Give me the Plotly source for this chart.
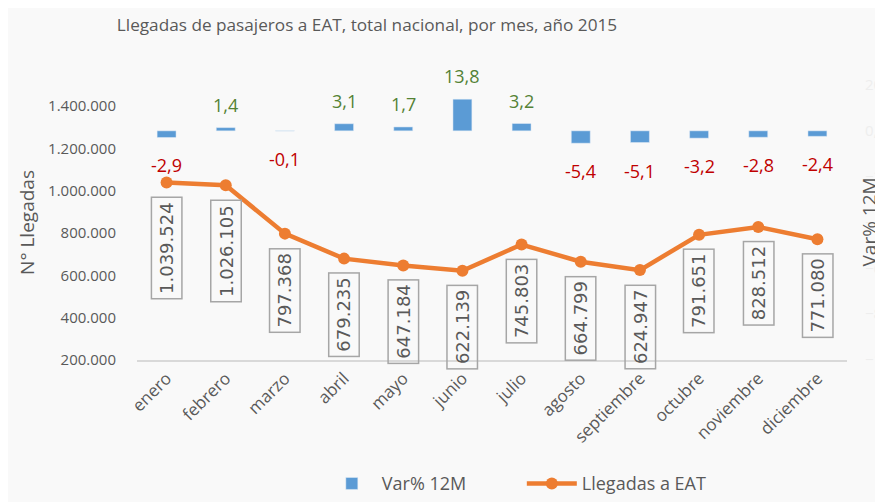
import plotly.graph_objects as go

meses = ["enero", "febrero", "marzo", "abril", "mayo", "junio", "julio",
         "agosto", "septiembre", "octubre", "noviembre", "diciembre"]
llegadas = [1039524, 1026105, 797368, 679235, 647184, 622139, 745803,
            664799, 624947, 791651, 828512, 771080]
var12m = [-2.9, 1.4, -0.1, 3.1, 1.7, 13.8, 3.2, -5.4, -5.1, -3.2, -2.8, -2.4]

GRAY = "#595959"
BLUE = "#5b9bd5"
ORANGE = "#ed7d31"
GREEN = "#548235"
RED = "#c00000"
BG = "#f9f9f9"

def fmt_miles(v):
    return f"{v:,}".replace(",", ".")

def fmt_pct(v):
    return f"{v:.1f}".replace(".", ",")

fig = go.Figure()
fig.add_trace(go.Bar(
    x=meses, y=var12m, name="Var% 12M", yaxis="y2",
    marker=dict(color=BLUE), width=0.32,
))
fig.add_trace(go.Scatter(
    x=meses, y=llegadas, name="Llegadas a EAT", mode="lines+markers",
    line=dict(color=ORANGE, width=4.5), marker=dict(color=ORANGE, size=12),
))

annotations = []
for m, v in zip(meses, var12m):
    annotations.append(dict(
        x=m, y=v, xref="x", yref="y2", text=fmt_pct(v), showarrow=False,
        yanchor="middle", yshift=(23 if v > 0 else -28),
        font=dict(family="Open Sans", size=18, color=(GREEN if v > 0 else RED)),
    ))
for m, v in zip(meses, llegadas):
    annotations.append(dict(
        x=m, y=v, xref="x", yref="y", text=fmt_miles(v), showarrow=False,
        textangle=-90, yanchor="top", yshift=-14,
        bordercolor="#a6a6a6", borderwidth=1.5, borderpad=4,
        font=dict(family="DejaVu Sans", size=18, color=GRAY),
    ))
annotations.append(dict(
    x=1.0, xref="paper", xshift=21, y=0.5, yref="paper", text="Var% 12M",
    textangle=-90, showarrow=False, xanchor="center",
    font=dict(family="Open Sans", size=19, color=GRAY),
))

fig.update_layout(
    width=875, height=494,
    margin=dict(l=129, r=36, t=77, b=142, autoexpand=False),
    paper_bgcolor=BG, plot_bgcolor=BG,
    separators=",.",
    title=dict(text="Llegadas de pasajeros a EAT, total nacional, por mes, año 2015",
               x=359 / 875, xanchor="center", xref="container",
               y=1 - 17 / 494, yanchor="middle", yref="container",
               font=dict(family="Open Sans", size=17.2, color=GRAY)),
    xaxis=dict(tickangle=-45, showgrid=False, showline=True, linecolor="#d9d9d9",
               linewidth=1.5, ticks="", automargin=False, range=[-0.5, 11.5],
               tickfont=dict(family="Open Sans", size=17, color=GRAY)),
    yaxis=dict(range=[200000, 1500000], dtick=200000, tick0=200000,
               tickformat=",d", showgrid=False, zeroline=False, automargin=False,
               ticks="outside", ticklen=17, tickcolor="rgba(0,0,0,0)",
               tickfont=dict(family="Open Sans", size=15, color=GRAY),
               title=dict(text="N° Llegadas", standoff=8,
                          font=dict(family="Open Sans", size=19, color=GRAY))),
    yaxis2=dict(range=[-100, 20], dtick=20, tickformat=".1f", overlaying="y",
                side="right", showgrid=False, zeroline=False, automargin=False,
                ticks="outside", ticklen=14, tickcolor="rgba(0,0,0,0)",
                tickfont=dict(family="Open Sans", size=15, color="#eeeeee")),
    legend=dict(orientation="h", x=0.542, xanchor="center", y=-0.45, yanchor="middle",
                itemwidth=50, entrywidth=135,
                font=dict(family="Open Sans", size=18, color=GRAY),
                bgcolor="rgba(0,0,0,0)"),
    annotations=annotations,
    bargap=0.68,
)

fig.write_html("out.html")
